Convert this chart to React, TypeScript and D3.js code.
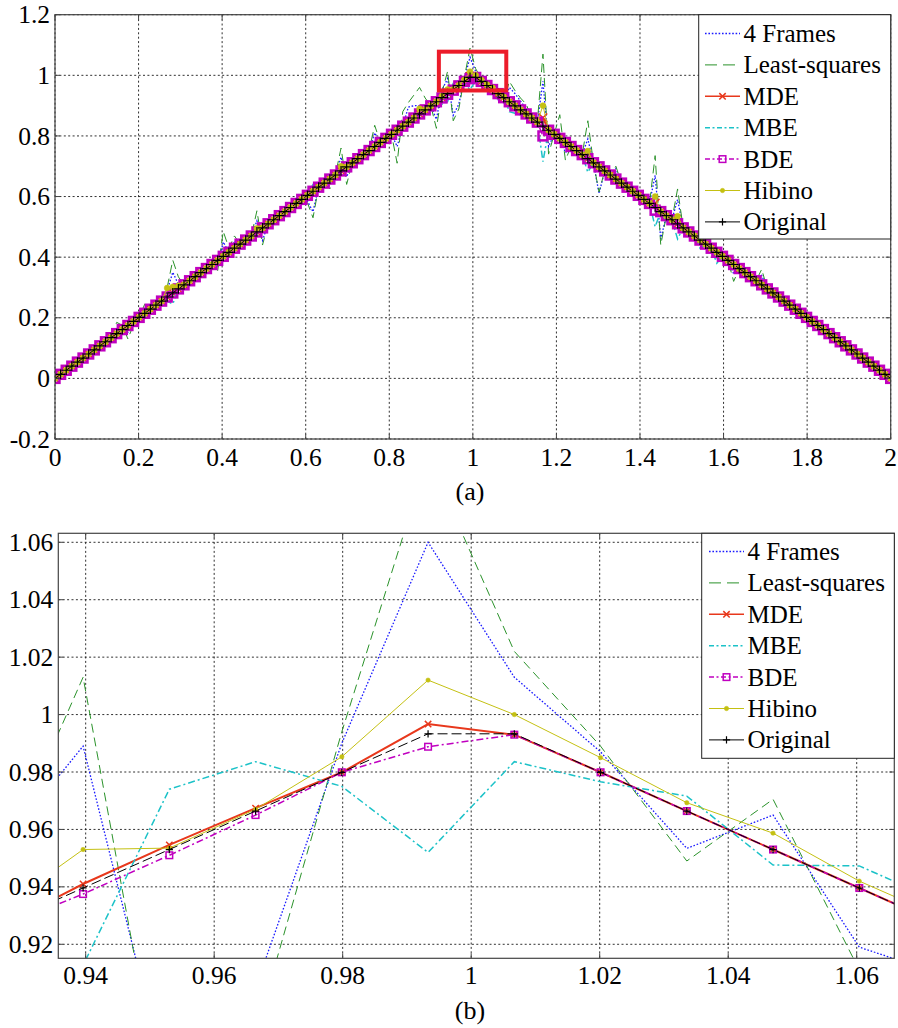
import React from 'react';
import * as d3 from 'd3';

// ---------------- DATA ----------------
// sample grid: 150 samples spanning [0, 2]
const N = 150;
const xGrid: number[] = d3.range(N).map((i) => (2 * i) / (N - 1));

// Original signal (triangle) read at each sample
const original: number[] = [
  0, 0.0134, 0.0268, 0.0403, 0.0537, 0.0671, 0.0805, 0.094, 0.1074, 0.1208,
  0.1342, 0.1477, 0.1611, 0.1745, 0.1879, 0.2013, 0.2148, 0.2282, 0.2416, 0.255,
  0.2685, 0.2819, 0.2953, 0.3087, 0.3221, 0.3356, 0.349, 0.3624, 0.3758, 0.3893,
  0.4027, 0.4161, 0.4295, 0.443, 0.4564, 0.4698, 0.4832, 0.4966, 0.5101, 0.5235,
  0.5369, 0.5503, 0.5638, 0.5772, 0.5906, 0.604, 0.6174, 0.6309, 0.6443, 0.6577,
  0.6711, 0.6846, 0.698, 0.7114, 0.7248, 0.7383, 0.7517, 0.7651, 0.7785, 0.7919,
  0.8054, 0.8188, 0.8322, 0.8456, 0.8591, 0.8725, 0.8859, 0.8993, 0.9128, 0.9262,
  0.9396, 0.953, 0.9664, 0.9799, 0.9933,
  0.9933, 0.9799, 0.9664, 0.953, 0.9396, 0.9262, 0.9128, 0.8993, 0.8859, 0.8725,
  0.8591, 0.8456, 0.8322, 0.8188, 0.8054, 0.7919, 0.7785, 0.7651, 0.7517, 0.7383,
  0.7248, 0.7114, 0.698, 0.6846, 0.6711, 0.6577, 0.6443, 0.6309, 0.6174, 0.604,
  0.5906, 0.5772, 0.5638, 0.5503, 0.5369, 0.5235, 0.5101, 0.4966, 0.4832, 0.4698,
  0.4564, 0.443, 0.4295, 0.4161, 0.4027, 0.3893, 0.3758, 0.3624, 0.349, 0.3356,
  0.3221, 0.3087, 0.2953, 0.2819, 0.2685, 0.255, 0.2416, 0.2282, 0.2148, 0.2013,
  0.1879, 0.1745, 0.1611, 0.1477, 0.1342, 0.1208, 0.1074, 0.094, 0.0805, 0.0671,
  0.0537, 0.0403, 0.0268, 0.0134, 0,
];

// Readings where each estimate departs from the original: [sample index, value]
const fourFramesReadings: [number, number][] = [
  [11, 0.158], [12, 0.17], [13, 0.152], [14, 0.182], [16, 0.23],
  [20, 0.29], [21, 0.35], [22, 0.31], [29, 0.37], [30, 0.45], [32, 0.45],
  [36, 0.52], [37, 0.455], [45, 0.585], [46, 0.55], [49, 0.64], [51, 0.73], [52, 0.665],
  [57, 0.81], [61, 0.765], [63, 0.895], [64, 0.9], [65, 0.9], [68, 0.855],
  [69, 0.952], [70, 0.989], [71, 0.868], [72, 0.905], [73, 0.99], [74, 1.06],
  [75, 1.013], [76, 0.987], [77, 0.9534], [78, 0.965], [79, 0.919], [80, 0.909],
  [81, 0.96], [82, 0.94], [83, 0.915], [84, 0.89], [87, 0.98], [88, 0.765],
  [91, 0.745], [95, 0.79], [97, 0.61], [100, 0.693], [107, 0.67], [108, 0.46],
  [111, 0.59], [121, 0.345], [126, 0.34],
];
const leastSquaresReadings: [number, number][] = [
  [11, 0.185], [12, 0.175], [13, 0.13], [14, 0.178], [16, 0.245],
  [20, 0.3], [21, 0.39], [22, 0.335], [29, 0.355], [30, 0.485], [31, 0.43], [32, 0.47],
  [36, 0.553], [37, 0.44], [38, 0.51], [45, 0.58], [46, 0.53], [49, 0.625], [51, 0.76], [52, 0.64],
  [57, 0.835], [61, 0.71], [62, 0.88], [63, 0.91], [64, 0.935], [65, 0.96], [66, 0.925],
  [67, 0.9], [68, 0.825], [69, 0.945], [70, 1.013], [71, 0.85], [72, 0.889], [73, 0.994],
  [74, 1.09], [75, 1.022], [76, 0.989], [77, 0.949], [78, 0.9705], [79, 0.911], [80, 0.91],
  [81, 0.98], [82, 0.95], [83, 0.925], [84, 0.905], [87, 1.07], [88, 0.74], [90, 0.87],
  [91, 0.72], [95, 0.85], [97, 0.615], [100, 0.7], [107, 0.735], [108, 0.44], [111, 0.625],
  [118, 0.39], [121, 0.32], [126, 0.36], [130, 0.245], [133, 0.195], [139, 0.155],
];
const mdeReadings: [number, number][] = [
  [69, 0.9257], [70, 0.941], [71, 0.9546], [72, 0.9674], [73, 0.9799], [74, 0.9967],
  [75, 0.993], [87, 0.86], [107, 0.578],
];
const mbeReadings: [number, number][] = [
  [20, 0.255], [21, 0.245], [29, 0.375], [46, 0.64],
  [69, 0.905], [70, 0.9127], [71, 0.974], [72, 0.9836], [73, 0.975], [74, 0.952],
  [75, 0.9836], [76, 0.9766], [77, 0.9716], [78, 0.9476], [79, 0.9473], [80, 0.934],
  [81, 0.88], [82, 0.875], [83, 0.87], [87, 0.715], [95, 0.68], [107, 0.5],
  [109, 0.517], [111, 0.46], [115, 0.43], [118, 0.38],
];
const bdeReadings: [number, number][] = [
  [69, 0.9253], [70, 0.9375], [71, 0.951], [72, 0.965], [74, 0.9888], [75, 0.993],
  [87, 0.8], [107, 0.555],
];
const hibinoReadings: [number, number][] = [
  [20, 0.298], [21, 0.302], [22, 0.306], [36, 0.495], [51, 0.7], [65, 0.89],
  [69, 0.9315], [70, 0.953], [71, 0.9535], [72, 0.967], [73, 0.9853], [74, 1.012],
  [75, 1.0], [76, 0.985], [77, 0.9693], [78, 0.9587], [79, 0.942], [80, 0.9288],
  [87, 0.9], [95, 0.75], [107, 0.6], [111, 0.535],
];

const seriesNames = ['4 Frames', 'Least-squares', 'MDE', 'MBE', 'BDE', 'Hibino', 'Original'];

const topXTicks = [0, 0.2, 0.4, 0.6, 0.8, 1, 1.2, 1.4, 1.6, 1.8, 2];
const topYTicks = [-0.2, 0, 0.2, 0.4, 0.6, 0.8, 1, 1.2];
const botXTicks = [0.94, 0.96, 0.98, 1, 1.02, 1.04, 1.06];
const botYTicks = [0.92, 0.94, 0.96, 0.98, 1, 1.02, 1.04, 1.06];

const zoomBoxX = [0.9187, 1.08];
const zoomBoxY = [0.95, 1.078];

// ---------------- BUILD ----------------
function build(readings: [number, number][]): number[] {
  const a = original.slice();
  readings.forEach(([i, v]) => {
    a[i] = v;
  });
  return a;
}

type Marker = 'x' | 's' | 'o' | '+' | null;
interface Style {
  color: string;
  dash: string | null;
  legendDash: string | null;
  width: number;
  marker: Marker;
}

const seriesValues = [
  build(fourFramesReadings),
  build(leastSquaresReadings),
  build(mdeReadings),
  build(mbeReadings),
  build(bdeReadings),
  build(hibinoReadings),
  original,
];

const styles: Style[] = [
  { color: '#1a1aff', dash: '1.6,1.8', legendDash: '1.6,1.8', width: 1.3, marker: null },
  { color: '#2a922a', dash: '9,5', legendDash: '12,6', width: 1, marker: null },
  { color: '#e8381c', dash: null, legendDash: null, width: 2, marker: 'x' },
  { color: '#1cc2c8', dash: '7,3,2,3', legendDash: '5,2.5,2,2.5', width: 1.5, marker: null },
  { color: '#c000c0', dash: '7,3,2,3', legendDash: '5,2.5,2,2.5', width: 1.5, marker: 's' },
  { color: '#c4c012', dash: null, legendDash: null, width: 1, marker: 'o' },
  { color: '#000000', dash: '10,4', legendDash: null, width: 1, marker: '+' },
];

const FONT = "'Liberation Serif'";

function MarkerShape({ type, x, y, color, s, sw }: { type: Marker; x: number; y: number; color: string; s: number; sw: number }) {
  if (type === 'x') {
    const h = 3.2 * s;
    return (
      <path d={`M${x - h},${y - h}L${x + h},${y + h}M${x - h},${y + h}L${x + h},${y - h}`} stroke={color} strokeWidth={1.5} fill="none" />
    );
  }
  if (type === 's') {
    const h = 3.3 * s;
    return <rect x={x - h} y={y - h} width={2 * h} height={2 * h} stroke={color} strokeWidth={sw} fill="none" />;
  }
  if (type === 'o') {
    return <circle cx={x} cy={y} r={2.2 * s} fill={color} stroke={color} strokeWidth={0.5} />;
  }
  if (type === '+') {
    const h = 3.6 * s;
    return <path d={`M${x - h},${y}L${x + h},${y}M${x},${y - h}L${x},${y + h}`} stroke={color} strokeWidth={1.2} fill="none" />;
  }
  return null;
}

interface PanelProps {
  id: string;
  left: number;
  right: number;
  top: number;
  bottom: number;
  xDomain: [number, number];
  yDomain: [number, number];
  xTicks: number[];
  yTicks: number[];
  ms: number;
  sqw: number;
  legend: { x: number; y: number; w: number; h: number; row0: number; step: number; l0: number; l1: number; tx: number };
  label: string;
  labelX: number;
  labelY: number;
  xLabelY: number;
  zoomBox: boolean;
}

const fmt = (v: number) => String(+v.toFixed(2));
const tickStyle = { fontFamily: FONT, fontSize: '25.5px' };
const legStyle = { fontFamily: FONT, fontSize: '25px' };
const capStyle = { fontFamily: FONT, fontSize: '26px' };

function Panel(p: PanelProps) {
  const x = d3.scaleLinear().domain(p.xDomain).range([p.left, p.right]);
  const y = d3.scaleLinear().domain(p.yDomain).range([p.bottom, p.top]);
  const clipId = `clip-${p.id}`;
  const tl = 5;
  const [xd0, xd1] = p.xDomain;
  const margin = (xd1 - xd0) * 0.05;

  return (
    <g>
      <defs>
        <clipPath id={clipId}>
          <rect x={p.left} y={p.top} width={p.right - p.left} height={p.bottom - p.top} />
        </clipPath>
      </defs>
      <rect x={p.left} y={p.top} width={p.right - p.left} height={p.bottom - p.top} fill="#fff" />
      {/* grid */}
      <g stroke="#1a1a1a" strokeWidth={0.9} strokeDasharray="2,2.4">
        {p.xTicks.map((t) => (
          <line key={`gx${t}`} x1={x(t)} x2={x(t)} y1={p.top} y2={p.bottom} />
        ))}
        {p.yTicks.map((t) => (
          <line key={`gy${t}`} x1={p.left} x2={p.right} y1={y(t)} y2={y(t)} />
        ))}
      </g>
      {/* series */}
      <g clipPath={`url(#${clipId})`}>
        {seriesValues.map((vals, si) => {
          const st = styles[si];
          const pts = xGrid.map((xv, i) => [xv, vals[i]] as [number, number]);
          const line = d3
            .line<[number, number]>()
            .x((d) => x(d[0]))
            .y((d) => y(d[1]));
          const visible = pts.filter((d) => d[0] >= xd0 - margin && d[0] <= xd1 + margin);
          return (
            <g key={`s${si}`}>
              <path d={line(pts) || ''} fill="none" stroke={st.color} strokeWidth={st.width} strokeDasharray={st.dash || undefined} strokeLinejoin="miter" />
              {st.marker &&
                visible.map((d, k) => (
                  <MarkerShape key={k} type={st.marker} x={x(d[0])} y={y(d[1])} color={st.color} s={p.ms} sw={p.sqw} />
                ))}
            </g>
          );
        })}
      </g>
      {p.zoomBox && (
        <rect
          x={x(zoomBoxX[0])}
          y={y(zoomBoxY[1])}
          width={x(zoomBoxX[1]) - x(zoomBoxX[0])}
          height={y(zoomBoxY[0]) - y(zoomBoxY[1])}
          fill="none"
          stroke="#ec1c2a"
          strokeWidth={4}
        />
      )}
      {/* frame & ticks */}
      <rect x={p.left} y={p.top} width={p.right - p.left} height={p.bottom - p.top} fill="none" stroke="#444" strokeWidth={1.2} />
      <g stroke="#444" strokeWidth={1}>
        {p.xTicks.map((t) => (
          <g key={`tx${t}`}>
            <line x1={x(t)} x2={x(t)} y1={p.bottom} y2={p.bottom - tl} />
            <line x1={x(t)} x2={x(t)} y1={p.top} y2={p.top + tl} />
          </g>
        ))}
        {p.yTicks.map((t) => (
          <g key={`ty${t}`}>
            <line x1={p.left} x2={p.left + tl} y1={y(t)} y2={y(t)} />
            <line x1={p.right} x2={p.right - tl} y1={y(t)} y2={y(t)} />
          </g>
        ))}
      </g>
      {/* tick labels */}
      {p.xTicks.map((t) => (
        <text key={`lx${t}`} x={x(t)} y={p.xLabelY} textAnchor="middle" style={tickStyle} fill="#000">
          {fmt(t)}
        </text>
      ))}
      {p.yTicks.map((t) => (
        <text key={`ly${t}`} x={p.left - 5} y={y(t) + 8.6} textAnchor="end" style={tickStyle} fill="#000">
          {fmt(t)}
        </text>
      ))}
      <text x={p.labelX} y={p.labelY} textAnchor="middle" style={capStyle} fill="#000">
        {p.label}
      </text>
      {/* legend */}
      <g>
        <rect x={p.legend.x} y={p.legend.y} width={p.legend.w} height={p.legend.h} fill="#fff" stroke="#222" strokeWidth={1} />
        {seriesNames.map((name, i) => {
          const st = styles[i];
          const cy = p.legend.row0 + i * p.legend.step;
          const mx = (p.legend.l0 + p.legend.l1) / 2;
          return (
            <g key={`lg${i}`}>
              <line
                x1={p.legend.l0}
                x2={p.legend.l1}
                y1={cy}
                y2={cy}
                stroke={st.color}
                strokeWidth={st.width === 2 ? 1.6 : st.width}
                strokeDasharray={st.legendDash || undefined}
              />
              {st.marker && <MarkerShape type={st.marker} x={mx} y={cy} color={st.color} s={1} sw={1.5} />}
              <text x={p.legend.tx} y={cy + 8.4} style={legStyle} fill="#000">
                {name}
              </text>
            </g>
          );
        })}
      </g>
    </g>
  );
}

export default function App() {
  return (
    <svg width={898} height={1028} style={{ position: 'absolute', left: 0, top: 0, background: '#fff' }}>
      <rect x={0} y={0} width={898} height={1028} fill="#fff" />
      <Panel
        id="a"
        left={55}
        right={890.7}
        top={14.7}
        bottom={439}
        xDomain={[0, 2]}
        yDomain={[-0.2, 1.2]}
        xTicks={topXTicks}
        yTicks={topYTicks}
        ms={1.35}
        sqw={2.5}
        legend={{ x: 698.7, y: 14.7, w: 192, h: 224.3, row0: 33.5, step: 31.4, l0: 705, l1: 740, tx: 743.5 }}
        label="(a)"
        labelX={470}
        labelY={500}
        xLabelY={465.5}
        zoomBox={true}
      />
      <Panel
        id="b"
        left={58.3}
        right={894.3}
        top={533.3}
        bottom={958.3}
        xDomain={[0.93574, 1.06585]}
        yDomain={[0.91512, 1.06313]}
        xTicks={botXTicks}
        yTicks={botYTicks}
        ms={1}
        sqw={1.5}
        legend={{ x: 701.7, y: 533.3, w: 192.6, h: 225, row0: 551.5, step: 31.4, l0: 709, l1: 744, tx: 747.5 }}
        label="(b)"
        labelX={470}
        labelY={1018.5}
        xLabelY={983.5}
        zoomBox={false}
      />
    </svg>
  );
}
